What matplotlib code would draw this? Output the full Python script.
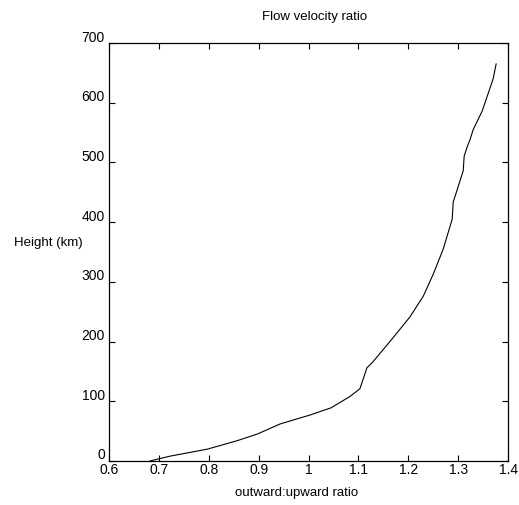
import matplotlib
matplotlib.use("Agg")
import matplotlib.pyplot as plt
import matplotlib.transforms as mtransforms

# Outward:upward flow velocity ratio versus height
ratio = [0.682, 0.722, 0.798, 0.857, 0.897, 0.943, 1.003, 1.045, 1.083, 1.103,
         1.117, 1.129, 1.167, 1.203, 1.230, 1.250, 1.270, 1.280, 1.288, 1.290,
         1.294, 1.310, 1.312, 1.318, 1.324, 1.330, 1.348, 1.370, 1.376]
height_km = [0, 8, 20, 34, 45, 62, 77, 89, 108, 121,
             156, 166, 204, 241, 276, 313, 355, 383, 405, 434,
             444, 486, 511, 526, 539, 555, 586, 640, 665]

x_ticks = [0.6, 0.7, 0.8, 0.9, 1.0, 1.1, 1.2, 1.3, 1.4]
x_tick_labels = ["0.6", "0.7", "0.8", "0.9", "1", "1.1", "1.2", "1.3", "1.4"]
y_ticks = [0, 100, 200, 300, 400, 500, 600, 700]

plt.rcParams["font.family"] = ["Liberation Sans", "DejaVu Sans"]
plt.rcParams["font.size"] = 9.5

fig = plt.figure(figsize=(5.19, 5.06), dpi=100)
ax = fig.add_axes([0.210, 0.087, 0.769, 0.826])

ax.plot(ratio, height_km, color="black", linewidth=0.8)

ax.set_xlim(0.6, 1.4)
ax.set_ylim(0, 700)
ax.set_xticks(x_ticks)
ax.set_xticklabels(x_tick_labels)
ax.set_yticks(y_ticks)
ax.tick_params(direction="in", length=4, width=0.8, top=True, right=True,
               labelsize=10, pad=1)
ax.tick_params(axis="y", pad=3)
for s in ax.spines.values():
    s.set_linewidth(0.9)

# raise the y tick labels slightly above their ticks
shift = mtransforms.ScaledTranslation(0, 0.08, fig.dpi_scale_trans)
for lab in ax.get_yticklabels():
    lab.set_transform(lab.get_transform() + shift)

ax.set_title("Flow velocity ratio", fontsize=9.5, pad=17, x=0.514)
ax.set_xlabel("outward:upward ratio", fontsize=9.5)
ax.xaxis.set_label_coords(0.469, -0.074)
ax.xaxis.label.set_va("center")
ax.set_ylabel("Height (km)", fontsize=9.5, rotation=0, ha="right", va="center")
ax.yaxis.set_label_coords(-0.065, 0.524)

fig.savefig("out.png", dpi=100)
